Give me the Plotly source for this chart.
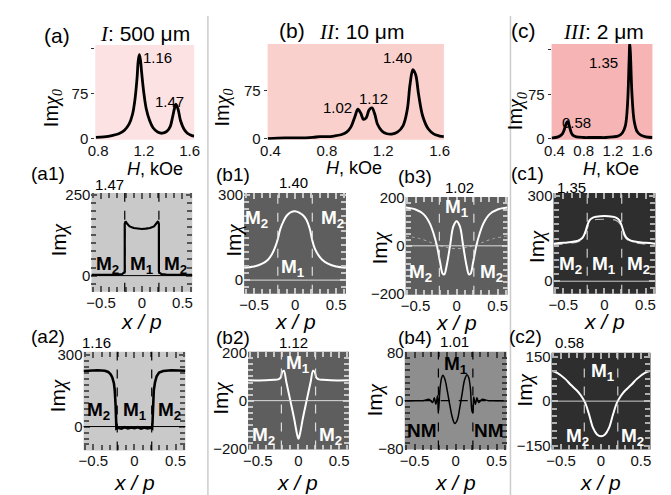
import plotly.graph_objects as go

W, H = 671, 495
FONT = "Liberation Sans, Arial, sans-serif"
SERIF = "Liberation Serif, Times New Roman, serif"

# ---------------- data ----------------
H_A = [0.78, 0.85, 0.92, 0.98, 1.03, 1.07, 1.10, 1.12, 1.14, 1.15, 1.16, 1.17, 1.18, 1.20, 1.22, 1.25,
       1.28, 1.32, 1.36, 1.40, 1.43, 1.45, 1.47, 1.48, 1.50, 1.52, 1.55, 1.58, 1.62, 1.64]
CHI_A = [2, 3, 5, 8, 14, 24, 40, 62, 100, 128, 139, 130, 110, 75, 50, 30,
         18, 11, 9, 12, 20, 35, 52, 57, 48, 30, 16, 9, 5, 4]

H_B = [0.38, 0.5, 0.6, 0.7, 0.75, 0.8, 0.85, 0.9, 0.94, 0.97, 1.0, 1.02, 1.04, 1.06, 1.08, 1.10, 1.12,
       1.14, 1.16, 1.19, 1.22, 1.26, 1.30, 1.34, 1.37, 1.39, 1.41, 1.43, 1.45, 1.48, 1.52, 1.56, 1.60, 1.63]
CHI_B = [0, 1, 1, 2, 3, 3, 4, 6, 10, 18, 35, 46, 40, 30, 33, 45, 48,
         38, 22, 12, 8, 7, 10, 20, 45, 85, 108, 100, 70, 35, 15, 7, 4, 3]

H_C = [0.36, 0.45, 0.50, 0.53, 0.55, 0.57, 0.58, 0.59, 0.61, 0.63, 0.66, 0.70, 0.8, 0.9, 1.0, 1.1, 1.2,
       1.28, 1.33, 1.37, 1.40, 1.42, 1.43, 1.44, 1.46, 1.49, 1.53, 1.58, 1.65, 1.74]
CHI_C = [1, 3, 7, 14, 22, 28, 29, 27, 18, 10, 5, 3, 2, 2, 2, 2, 3,
         5, 10, 22, 60, 130, 162, 140, 75, 30, 12, 6, 3, 2]

X_A1 = [-0.62, -0.45, -0.3, -0.24, -0.22, -0.21, -0.21, -0.2, -0.18, -0.15, -0.1, -0.05, 0,
        0.05, 0.1, 0.15, 0.18, 0.2, 0.21, 0.21, 0.22, 0.24, 0.3, 0.45, 0.62]
Y_A1 = [2, 2, 3, 5, 8, 12, 160, 168, 160, 152, 147, 145, 144,
        145, 147, 152, 160, 168, 160, 12, 8, 5, 3, 2, 2]

X_A2 = [-0.62, -0.45, -0.36, -0.32, -0.29, -0.27, -0.25, -0.24, -0.23, -0.225, -0.22, -0.2, -0.16,
        -0.12, -0.08, -0.04, 0, 0.04, 0.08, 0.12, 0.16, 0.2, 0.215, 0.22, 0.225, 0.235, 0.25, 0.27,
        0.3, 0.35, 0.45, 0.62]
Y_A2 = [232, 235, 233, 228, 218, 205, 180, 150, 90, 20, -8, -5, -9,
        -3, -8, -4, -7, -3, -9, -4, -8, -5, -8, 20, 90, 150, 185, 210,
        225, 232, 235, 233]

X_B1 = [-0.62, -0.5, -0.4, -0.33, -0.28, -0.24, -0.21, -0.18, -0.14, -0.1, -0.05, 0, 0.05, 0.1,
        0.14, 0.18, 0.21, 0.24, 0.28, 0.33, 0.4, 0.5, 0.62]
Y_B1 = [44, 48, 58, 72, 92, 118, 145, 180, 208, 228, 240, 243, 238, 228,
        212, 180, 140, 112, 90, 72, 58, 48, 44]

X_B3 = [-0.62, -0.5, -0.4, -0.33, -0.28, -0.24, -0.2, -0.17, -0.15, -0.12, -0.08, -0.04, 0,
        0.04, 0.08, 0.12, 0.15, 0.17, 0.2, 0.24, 0.28, 0.33, 0.4, 0.5, 0.62]
Y_B3 = [158, 150, 130, 95, 50, 0, -70, -115, -118, -80, 0, 80, 102,
        80, 0, -80, -118, -115, -70, 0, 50, 95, 130, 150, 158]
X_B3D = [-0.62, -0.45, -0.3, -0.2, -0.1, 0, 0.1, 0.2, 0.3, 0.45, 0.62]
Y_B3D = [40, 30, 12, 0, -8, -12, -8, 0, 12, 30, 40]

X_C1 = [-0.62, -0.5, -0.4, -0.32, -0.27, -0.24, -0.21, -0.18, -0.14, -0.1, 0, 0.1, 0.14, 0.18,
        0.21, 0.24, 0.27, 0.32, 0.4, 0.5, 0.62]
Y_C1 = [132, 135, 138, 143, 152, 168, 195, 215, 224, 227, 229, 227, 224, 215,
        195, 168, 152, 143, 138, 135, 132]
Y_C1D = [128, 131, 134, 139, 148, 160, 185, 205, 214, 217, 218, 217, 214, 205,
         185, 160, 148, 139, 134, 131, 128]

X_B2 = [-0.62, -0.4, -0.3, -0.25, -0.22, -0.2, -0.18, -0.15, -0.1, -0.05, -0.02, 0, 0.02, 0.05,
        0.1, 0.15, 0.18, 0.2, 0.22, 0.25, 0.3, 0.4, 0.62]
Y_B2 = [84, 84, 86, 88, 95, 118, 124, 78, 0, -80, -135, -158, -135, -80,
        0, 78, 124, 118, 95, 88, 86, 84, 84]

X_B4 = [-0.62, -0.4, -0.32, -0.28, -0.26, -0.24, -0.22, -0.21, -0.19, -0.17, -0.155, -0.13, -0.1,
        -0.07, -0.04, -0.01, 0.02, 0.05, 0.08, 0.11, 0.14, 0.16, 0.18, 0.2, 0.21, 0.22, 0.24, 0.26,
        0.28, 0.32, 0.4, 0.62]
Y_B4 = [0, 0, 2, -3, 5, -6, 8, -20, 20, 38, 42, 35, 15,
        -8, -28, -38, -32, -12, 12, 35, 43, 38, 20, -18, -20, 6, -6, 5,
        -3, 2, 0, 0]

X_C2 = [-0.62, -0.55, -0.45, -0.38, -0.3, -0.25, -0.2, -0.15, -0.1, -0.05, 0, 0.05, 0.1, 0.15,
        0.2, 0.25, 0.3, 0.38, 0.45, 0.55, 0.62]
Y_C2 = [102, 95, 75, 55, 35, 18, -5, -45, -90, -112, -118, -112, -90, -45,
        -5, 18, 35, 55, 75, 95, 102]

PEAK_LABELS_A = ["1.16", "1.47"]
PEAK_LABELS_B = ["1.02", "1.12", "1.40"]
PEAK_LABELS_C = ["1.35", "0.58"]

# ---------------- helpers ----------------
fig = go.Figure()
shapes = []
annotations = []


def fx(p):
    return p / W


def fy(p):
    return 1 - p / H


def ann(text, x, y, size=14, color="black", xanchor="center", yanchor="middle", angle=0, family=FONT):
    annotations.append(dict(text=text, x=fx(x), y=fy(y), xref="paper", yref="paper", showarrow=False,
                            xanchor=xanchor, yanchor=yanchor, textangle=angle,
                            font=dict(size=size, color=color, family=family)))


def dann(n, text, x, y, size=19, color="black"):
    sx = "x" if n == 1 else f"x{n}"
    sy = "y" if n == 1 else f"y{n}"
    annotations.append(dict(text=text, x=x, y=y, xref=sx, yref=sy, showarrow=False,
                            font=dict(size=size, color=color, family=FONT)))


TICKFONT = dict(size=15, family=FONT, color="#111")


def axes(n, box, xr, yr, bg, xaxis_extra, yaxis_extra):
    x0, x1, yt, yb = box
    kx = "xaxis" if n == 1 else f"xaxis{n}"
    ky = "yaxis" if n == 1 else f"yaxis{n}"
    sx = "x" if n == 1 else f"x{n}"
    sy = "y" if n == 1 else f"y{n}"
    xa = dict(domain=[fx(x0), fx(x1)], anchor=sy, range=xr, showgrid=False, zeroline=False,
              showline=False, tickfont=TICKFONT)
    xa.update(xaxis_extra)
    ya = dict(domain=[fy(yb), fy(yt)], anchor=sx, range=yr, showgrid=False, zeroline=False,
              showline=False, tickfont=TICKFONT)
    ya.update(yaxis_extra)
    fig.update_layout(**{kx: xa, ky: ya})
    shapes.append(dict(type="rect", xref=f"{sx} domain", yref=f"{sy} domain", x0=0, x1=1, y0=0, y1=1,
                       fillcolor=bg, line=dict(width=0), layer="below"))
    return sx, sy


def line(n, xs, ys, color, width=2, dash="solid", shape="linear"):
    sx = "x" if n == 1 else f"x{n}"
    sy = "y" if n == 1 else f"y{n}"
    fig.add_trace(go.Scatter(x=xs, y=ys, xaxis=sx, yaxis=sy, mode="lines", showlegend=False,
                             line=dict(color=color, width=width, dash=dash, shape=shape)))


# ---------------- top row spectra ----------------
top_y = dict(ticks="outside", ticklen=3, tickcolor="#333", tickvals=[0, 75, 150], ticktext=["0", "75", ""])
top_x = lambda tv: dict(ticks="", tickvals=tv, ticktext=[f"{v:.1f}" for v in tv], ticklabelstandoff=0)

axes(1, (81, 182, 30, 128), [0.775, 1.64], [-2, 155], "#fce2e2", top_x([0.8, 1.2, 1.6]), top_y)
line(1, H_A, CHI_A, "black", 2.8, shape="spline")
axes(2, (257, 437, 29, 128), [0.38, 1.63], [-2, 148], "#f9d0cb", top_x([0.4, 0.8, 1.2, 1.6]), top_y)
line(2, H_B, CHI_B, "black", 2.8, shape="spline")
axes(3, (547, 650, 29, 128), [0.36, 1.74], [-2, 160], "#f6b4b4", top_x([0.4, 0.8, 1.2, 1.6]), top_y)
line(3, H_C, CHI_C, "black", 2.8, shape="spline")

ann(PEAK_LABELS_A[0], 145, 43, size=15); ann(PEAK_LABELS_A[1], 157, 88, size=15)
ann(PEAK_LABELS_B[0], 328, 95, size=15); ann(PEAK_LABELS_B[1], 365, 85, size=15); ann(PEAK_LABELS_B[2], 390, 43, size=15)
ann(PEAK_LABELS_C[0], 600, 48, size=15); ann(PEAK_LABELS_C[1], 572, 110, size=15)

ann("(a)", 42, 20, size=21)
ann(f"<span style='font-family:{SERIF}'><i>I</i></span>: 500 μm", 132, 19, size=21)
ann("(b)", 282, 15, size=21)
ann(f"<span style='font-family:{SERIF}'><i>II</i></span>: 10 μm", 353, 17, size=21)
ann("(c)", 518, 15, size=21)
ann(f"<span style='font-family:{SERIF}'><i>III</i></span>: 2 μm", 600, 17, size=21)

chi0 = f"Im<span style='font-family:{SERIF}'><i>χ</i><sub><i>0</i></sub></span>"
ann(chi0, 38, 95, size=20, angle=-90)
ann(chi0, 212, 95, size=20, angle=-90)
ann(chi0, 512, 98, size=20, angle=-90)
ann("<i>H</i>, kOe", 142, 158, size=18)
ann("<i>H</i>, kOe", 345, 157, size=18)
ann("<i>H</i>, kOe", 608, 158, size=18)

# ---------------- profile panels ----------------
def prof_x(tc):
    return dict(tickmode="linear", tick0=0, dtick=0.5, ticks="inside", ticklen=6, tickwidth=1.5,
                tickcolor=tc, mirror="ticks",
                minor=dict(dtick=0.1, tick0=0, ticks="inside", ticklen=5, tickwidth=1.5, tickcolor=tc,
                           showgrid=False))


def prof_y(d, minor, tc):
    return dict(tickmode="linear", tick0=0, dtick=d, ticks="inside", ticklen=6, tickwidth=1.5, tickcolor=tc,
                mirror="ticks",
                minor=dict(dtick=minor, tick0=0, ticks="inside", ticklen=5, tickwidth=1.5, tickcolor=tc,
                           showgrid=False))


LIGHT = "#c9c9c9"
MID = "#5e5e5e"
GRAYB4 = "#8e8e8e"
DARK = "#2e2e2e"
XR = [-0.62, 0.62]


def vlines(n, color, width=1.2):
    sx = "x" if n == 1 else f"x{n}"
    sy = "y" if n == 1 else f"y{n}"
    for xv in (-0.21, 0.21):
        shapes.append(dict(type="line", xref=sx, yref=f"{sy} domain", x0=xv, x1=xv, y0=0, y1=1,
                           line=dict(color=color, width=width, dash="dash")))


def hzero(n, color, width=1, dash="solid"):
    sx = "x" if n == 1 else f"x{n}"
    sy = "y" if n == 1 else f"y{n}"
    shapes.append(dict(type="line", xref=f"{sx} domain", yref=sy, x0=0, x1=1, y0=0, y1=0,
                       line=dict(color=color, width=width, dash=dash)))


M1 = "<b>M<sub>1</sub></b>"
M2 = "<b>M<sub>2</sub></b>"
NM = "<b>NM</b>"

TL = "#555555"   # ticks on light panels
TD = "#c8c8c8"   # ticks on dark panels

# (a1)
axes(4, (77, 180, 183, 285), XR, [-50, 255], LIGHT, prof_x(TL), prof_y(250, 25, TL))
hzero(4, "black", 1); vlines(4, "black")
line(4, X_A1, Y_A1, "black", 2.2)
dann(4, M2, -0.42, 33); dann(4, M1, 0, 33); dann(4, M2, 0.42, 33)

# (b1)
axes(5, (233, 337, 183, 287), XR, [-48, 307], MID, prof_x(TD), prof_y(300, 25, TD))
hzero(5, "#ddd", 1); vlines(5, "#ddd")
line(5, X_B1, Y_B1, "white", 2, shape="spline")
dann(5, M2, -0.47, 215, color="white"); dann(5, M2, 0.45, 215, color="white")
dann(5, M1, -0.02, 44, color="white")

# (b3)
axes(6, (398, 502, 187, 288), XR, [-202, 202], MID, prof_x(TD), prof_y(200, 25, TD))
hzero(6, "#ddd", 1); vlines(6, "#ddd")
line(6, X_B3D, Y_B3D, "#aaa", 1, dash="dot", shape="spline")
line(6, X_B3, Y_B3, "white", 2, shape="spline")
dann(6, M1, 0, 156, color="white"); dann(6, M2, -0.44, -112, color="white")
dann(6, M2, 0.42, -112, color="white")

# (c1)
axes(7, (549, 653, 183, 287), XR, [-44, 310], DARK, prof_x("#b0b0b0"), prof_y(300, 25, "#b0b0b0"))
hzero(7, "#ccc", 1); vlines(7, "#ccc")
line(7, X_C1, Y_C1D, "#bbb", 1.2, dash="dash", shape="spline")
line(7, X_C1, Y_C1, "white", 2, shape="spline")
dann(7, M2, -0.41, 58, color="white"); dann(7, M1, 0, 58, color="white")
dann(7, M2, 0.41, 58, color="white")

# (a2)
axes(8, (69, 173, 347, 449), XR, [-100, 312], LIGHT, prof_x(TL), prof_y(300, 25, TL))
hzero(8, "black", 1); vlines(8, "black")
line(8, X_A2, Y_A2, "black", 2.6)
dann(8, M2, -0.44, 65); dann(8, M1, 0.01, 65); dann(8, M2, 0.43, 65)

# (b2)
axes(9, (237, 340, 347, 448), XR, [-202, 202], MID, prof_x(TD), prof_y(200, 25, TD))
hzero(9, "#ddd", 1); vlines(9, "#ddd")
line(9, X_B2, Y_B2, "white", 2, shape="spline")
dann(9, M1, 0.0, 152, color="white"); dann(9, M2, -0.43, -148, color="white")
dann(9, M2, 0.39, -148, color="white")

# (b4)
axes(10, (397, 501, 347, 448), XR, [-81, 81], GRAYB4, prof_x("#3a3a3a"), prof_y(80, 10, "#3a3a3a"))
hzero(10, "black", 1.2, "dash"); vlines(10, "black")
line(10, X_B4, Y_B4, "black", 1.5, shape="spline")
dann(10, M1, 0, 59); dann(10, NM, -0.41, -50); dann(10, NM, 0.41, -50)

# (c2)
axes(11, (547, 648, 348, 448), XR, [-163, 163], DARK, prof_x("#b0b0b0"), prof_y(150, 25, "#b0b0b0"))
hzero(11, "#ccc", 1); vlines(11, "#ccc")
line(11, X_C2, Y_C2, "white", 2, shape="spline")
dann(11, M1, 0.03, 98, color="white"); dann(11, M2, -0.3, -120, color="white")
dann(11, M2, 0.39, -120, color="white")

# titles (peak field) above panels
for t, x, y in [("1.47", 95, 174), ("1.40", 283, 172), ("1.02", 453, 177), ("1.35", 567, 177),
                ("1.16", 82, 337), ("1.12", 283, 337), ("1.01", 448, 336), ("0.58", 565, 337)]:
    ann(t, x, y, size=15)

# panel labels
for t, x, y in [("(a1)", 33, 163), ("(b1)", 222, 164), ("(b3)", 407, 166), ("(c1)", 522, 163),
                ("(a2)", 33, 331), ("(b2)", 222, 332), ("(b4)", 407, 332), ("(c2)", 520, 331)]:
    ann(t, x, y, size=19)

chi = f"Im<span style='font-family:{SERIF}'><i>χ</i></span>"
for x, y in [(43, 232), (222, 232), (372, 240), (532, 238), (43, 393), (210, 395), (367, 397), (520, 387)]:
    ann(chi, x, y, size=21, angle=-90)

xp = "<i>x / p</i>"
for x, y in [(128, 316), (285, 316), (450, 317), (601, 316), (121, 482), (288, 482), (449, 482), (597, 482)]:
    ann(xp, x, y, size=21)

# column separators
for xv in (196, 505):
    shapes.append(dict(type="line", xref="paper", yref="paper", x0=fx(xv), x1=fx(xv), y0=0, y1=1,
                       line=dict(color="#cccccc", width=1.5)))

fig.update_layout(width=W, height=H, margin=dict(l=0, r=0, t=0, b=0), paper_bgcolor="white",
                  plot_bgcolor="rgba(0,0,0,0)", shapes=shapes, annotations=annotations,
                  font=dict(family=FONT, size=14, color="black"), showlegend=False)

fig.write_html("out.html")
